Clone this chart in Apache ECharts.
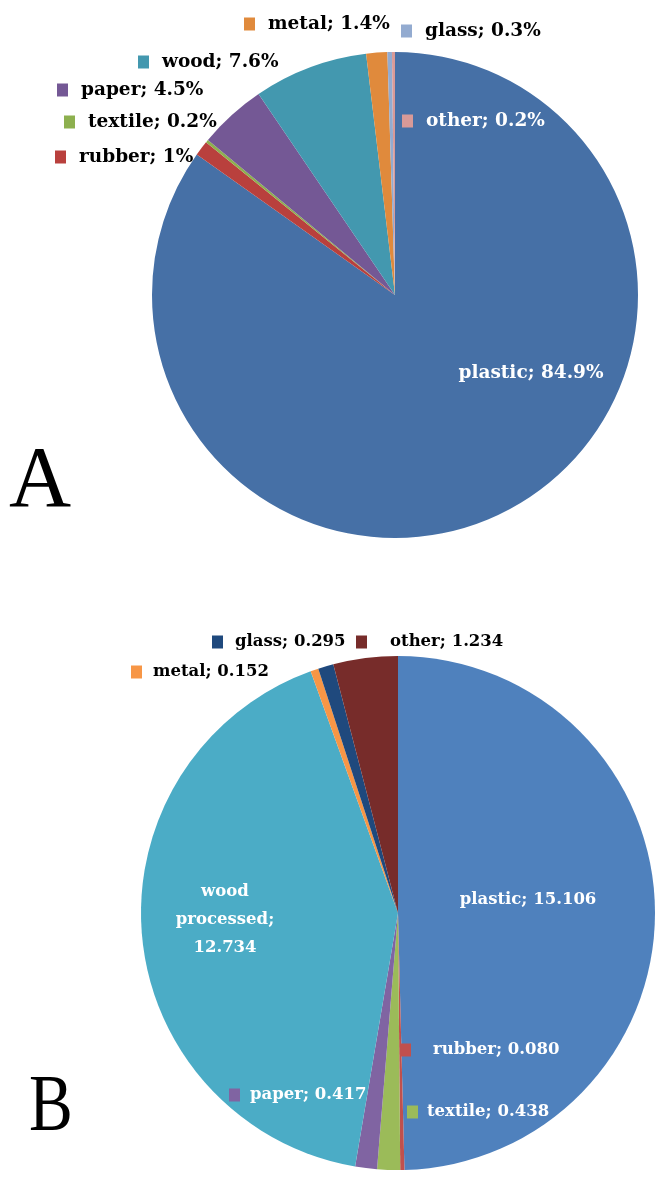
<!DOCTYPE html>
<html>
<head>
    <meta charset="utf-8">
    <title>Waste composition</title>
    <script src="https://cdn.jsdelivr.net/npm/echarts@6/dist/echarts.min.js"></script>
    <style>
        html, body, #main {
            width: 100%;
            height: 100%;
            margin: 0;
            background: #fff;
        }
    </style>
</head>
<body>
    <div id="main"></div>
    <script type="text/javascript">
        // pie A: share in percent, clockwise from 12 o'clock
        var namesA = ['plastic', 'rubber', 'textile', 'paper', 'wood', 'metal', 'glass', 'other'];
        var valuesA = [84.9, 1, 0.2, 4.5, 7.6, 1.4, 0.3, 0.2];
        var colorsA = ['#4670A6', '#B9403D', '#8DB04F', '#745895', '#4398AF', '#E08A3C', '#93ABD0', '#D99A98'];

        // pie B: amounts, clockwise from 12 o'clock
        var namesB = ['plastic', 'rubber', 'textile', 'paper', 'wood processed', 'metal', 'glass', 'other'];
        var valuesB = [15.106, 0.080, 0.438, 0.417, 12.734, 0.152, 0.295, 1.234];
        var colorsB = ['#4F81BD', '#C0504D', '#9BBB59', '#8064A2', '#4BACC6', '#F79646', '#1F497D', '#772C2A'];

        // where each label sits: [x, y, marker gap, white text?, has marker]
        var placeA = [
            [531, 373, 0, true, false],
            [55, 157, 13, false, true],
            [64, 122, 13, false, true],
            [57, 90, 13, false, true],
            [138, 62, 13, false, true],
            [244, 24, 13, false, true],
            [401, 31, 13, false, true],
            [402, 121, 13, true, true]
        ];
        var placeB = [
            [528, 900, 0, true, false],
            [400, 1050, 22, true, true],
            [407, 1112, 9, true, true],
            [229, 1095, 10, true, true],
            [225, 920, 0, true, false],
            [131, 672, 11, false, true],
            [212, 642, 12, false, true],
            [356, 642, 23, false, true]
        ];

        var font = '"DejaVu Serif", "Liberation Serif", serif';

        function buildData(names, values, colors, place, fsize, fmt) {
            return names.map(function (n, i) {
                var p = place[i];
                var txtColor = p[3] ? '#fff' : '#000';
                return {
                    name: n,
                    value: values[i],
                    itemStyle: { color: colors[i] },
                    label: {
                        formatter: function (prm) {
                            var t = fmt(prm.name, prm.value);
                            return p[4] ? '{m|}{t|' + t + '}' : t;
                        },
                        color: txtColor,
                        fontSize: fsize,
                        align: p[4] ? 'left' : 'center',
                        rich: {
                            m: { width: 11, height: 11, backgroundColor: colors[i], padding: [0, 0, 2, 0] },
                            t: {
                                color: txtColor, fontFamily: font, fontWeight: 'bold',
                                fontSize: fsize, padding: [0, 0, 0, p[2]]
                            }
                        }
                    }
                };
            });
        }

        function layoutFrom(place) {
            return function (params) {
                var p = place[params.dataIndex];
                return {
                    x: p[0],
                    y: p[1],
                    align: p[4] ? 'left' : 'center',
                    verticalAlign: 'middle'
                };
            };
        }

        var dataA = buildData(namesA, valuesA, colorsA, placeA, 18.5, function (n, v) {
            return n + '; ' + v + '%';
        });
        var dataB = buildData(namesB, valuesB, colorsB, placeB, 16.5, function (n, v) {
            if (n === 'wood processed') return 'wood\nprocessed;\n' + v.toFixed(3);
            return n + '; ' + v.toFixed(3);
        });

        var myChart = echarts.init(document.getElementById('main'));
        var option = {
            animation: false,
            graphic: [
                { type: 'text', left: 9, top: 440, style: { text: 'A', font: '86px "Liberation Serif", serif', fill: '#000' } },
                { type: 'text', x: 29, y: 1069, scaleX: 0.82, style: { text: 'B', font: '80px "Liberation Serif", serif', fill: '#000' } }
            ],
            series: [{
                type: 'pie',
                center: [395, 295],
                radius: 243,
                startAngle: 90,
                clockwise: true,
                avoidLabelOverlap: false,
                itemStyle: { borderWidth: 0 },
                label: {
                    show: true,
                    position: 'inside',
                    fontFamily: font,
                    fontWeight: 'bold',
                    lineHeight: 28
                },
                labelLine: { show: false },
                labelLayout: layoutFrom(placeA),
                emphasis: { disabled: true },
                data: dataA
            }, {
                type: 'pie',
                center: [398, 913],
                radius: 257,
                startAngle: 90,
                clockwise: true,
                avoidLabelOverlap: false,
                itemStyle: { borderWidth: 0 },
                label: {
                    show: true,
                    position: 'inside',
                    fontFamily: font,
                    fontWeight: 'bold',
                    lineHeight: 28
                },
                labelLine: { show: false },
                labelLayout: layoutFrom(placeB),
                emphasis: { disabled: true },
                data: dataB
            }]
        };
        myChart.setOption(option);
        window.onresize = myChart.resize;
    </script>
</body>
</html>
